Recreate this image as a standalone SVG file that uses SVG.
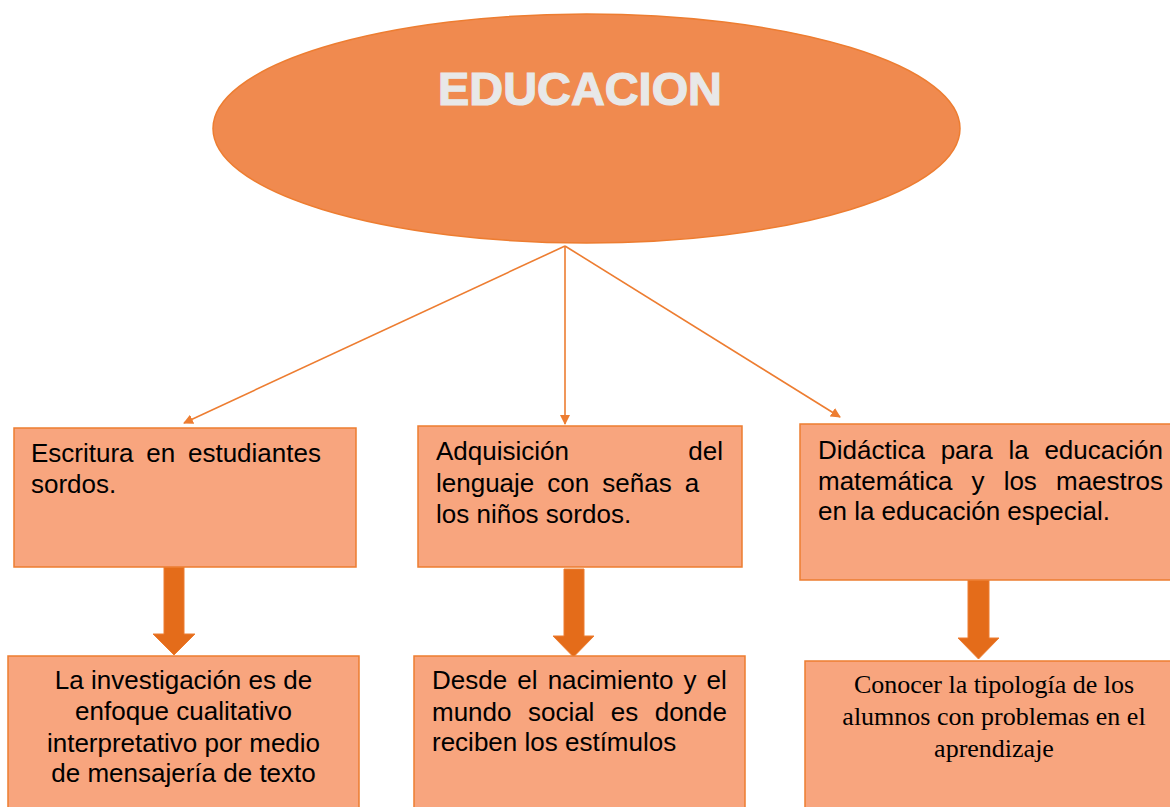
<svg xmlns="http://www.w3.org/2000/svg" width="1170" height="807" viewBox="0 0 1170 807">
<style>
.box{fill:#F8A57E;stroke:#ED7D31;stroke-width:1.5}
.t{font-family:"Liberation Sans",Arial,sans-serif;font-size:26px;fill:#000}
.ts{font-family:"Liberation Serif","Times New Roman",serif;font-size:26px;fill:#000}
.thin{stroke:#ED7D31;stroke-width:1.6;fill:none;marker-end:url(#ah)}
.big{fill:#E46C1A;stroke:#ED7D31;stroke-width:1}
</style>
<defs>
<marker id="ah" viewBox="0 0 10 10" refX="9" refY="5" markerWidth="10" markerHeight="10" markerUnits="userSpaceOnUse" orient="auto">
<path d="M0,0 L10,5 L0,10 Z" fill="#ED7D31"/>
</marker>
</defs>
<rect width="1170" height="807" fill="#fff"/>
<g id="educacion">
<ellipse cx="586.5" cy="128.5" rx="373.5" ry="114.5" fill="#F08A4F" stroke="#ED7D31" stroke-width="1.5"/>
<text x="580" y="105" text-anchor="middle" font-family="'Liberation Sans',Arial,sans-serif" font-weight="bold" font-size="47" fill="#E8E8E8" stroke="#E8E8E8" stroke-width="1.2" textLength="284" lengthAdjust="spacingAndGlyphs">EDUCACION</text>
</g>
<g id="connectors">
<line class="thin" x1="565" y1="246" x2="184" y2="423"/>
<line class="thin" x1="565" y1="246" x2="565" y2="424"/>
<line class="thin" x1="565" y1="246" x2="840" y2="417"/>
<path class="big" d="M164,567 H184 V634 H195 L174,655 L153,634 H164 Z"/>
<path class="big" d="M564,569 H584 V636 H594 L573.5,657 L553,636 H564 Z"/>
<path class="big" d="M968,580 H989 V638 H999 L978.5,659 L958,638 H968 Z"/>
</g>
<g id="escritura">
<rect class="box" x="14" y="428" width="342" height="139"/>
<text class="t" x="31" y="462" word-spacing="5.5">Escritura en estudiantes</text>
<text class="t" x="31" y="493">sordos.</text>
</g>
<g id="adquisicion">
<rect class="box" x="418" y="426" width="324" height="141"/>
<text class="t" x="436" y="460">Adquisición</text>
<text class="t" x="723" y="460" text-anchor="end">del</text>
<text class="t" x="436" y="492" word-spacing="5.8">lenguaje con señas a</text>
<text class="t" x="436" y="523">los niños sordos.</text>
</g>
<g id="didactica">
<rect class="box" x="800" y="424" width="380" height="156"/>
<text class="t" x="818" y="459" word-spacing="8.5">Didáctica para la educación</text>
<text class="t" x="818" y="490" word-spacing="11.9">matemática y los maestros</text>
<text class="t" x="818" y="520">en la educación especial.</text>
</g>
<g id="investigacion">
<rect class="box" x="8" y="656" width="351" height="160"/>
<text class="t" x="183.5" y="689" text-anchor="middle">La investigación es de</text>
<text class="t" x="183.5" y="720" text-anchor="middle">enfoque cualitativo</text>
<text class="t" x="183.5" y="752" text-anchor="middle">interpretativo por medio</text>
<text class="t" x="183.5" y="782" text-anchor="middle">de mensajería de texto</text>
</g>
<g id="desde">
<rect class="box" x="414" y="656" width="331" height="160"/>
<text class="t" x="432" y="689" word-spacing="2.9">Desde el nacimiento y el</text>
<text class="t" x="432" y="721" word-spacing="9.2">mundo social es donde</text>
<text class="t" x="432" y="751">reciben los estímulos</text>
</g>
<g id="conocer">
<rect class="box" x="805" y="661" width="380" height="160"/>
<text class="ts" x="994" y="693" text-anchor="middle">Conocer la tipología de los</text>
<text class="ts" x="994" y="725" text-anchor="middle">alumnos con problemas en el</text>
<text class="ts" x="994" y="757" text-anchor="middle">aprendizaje</text>
</g>
</svg>
